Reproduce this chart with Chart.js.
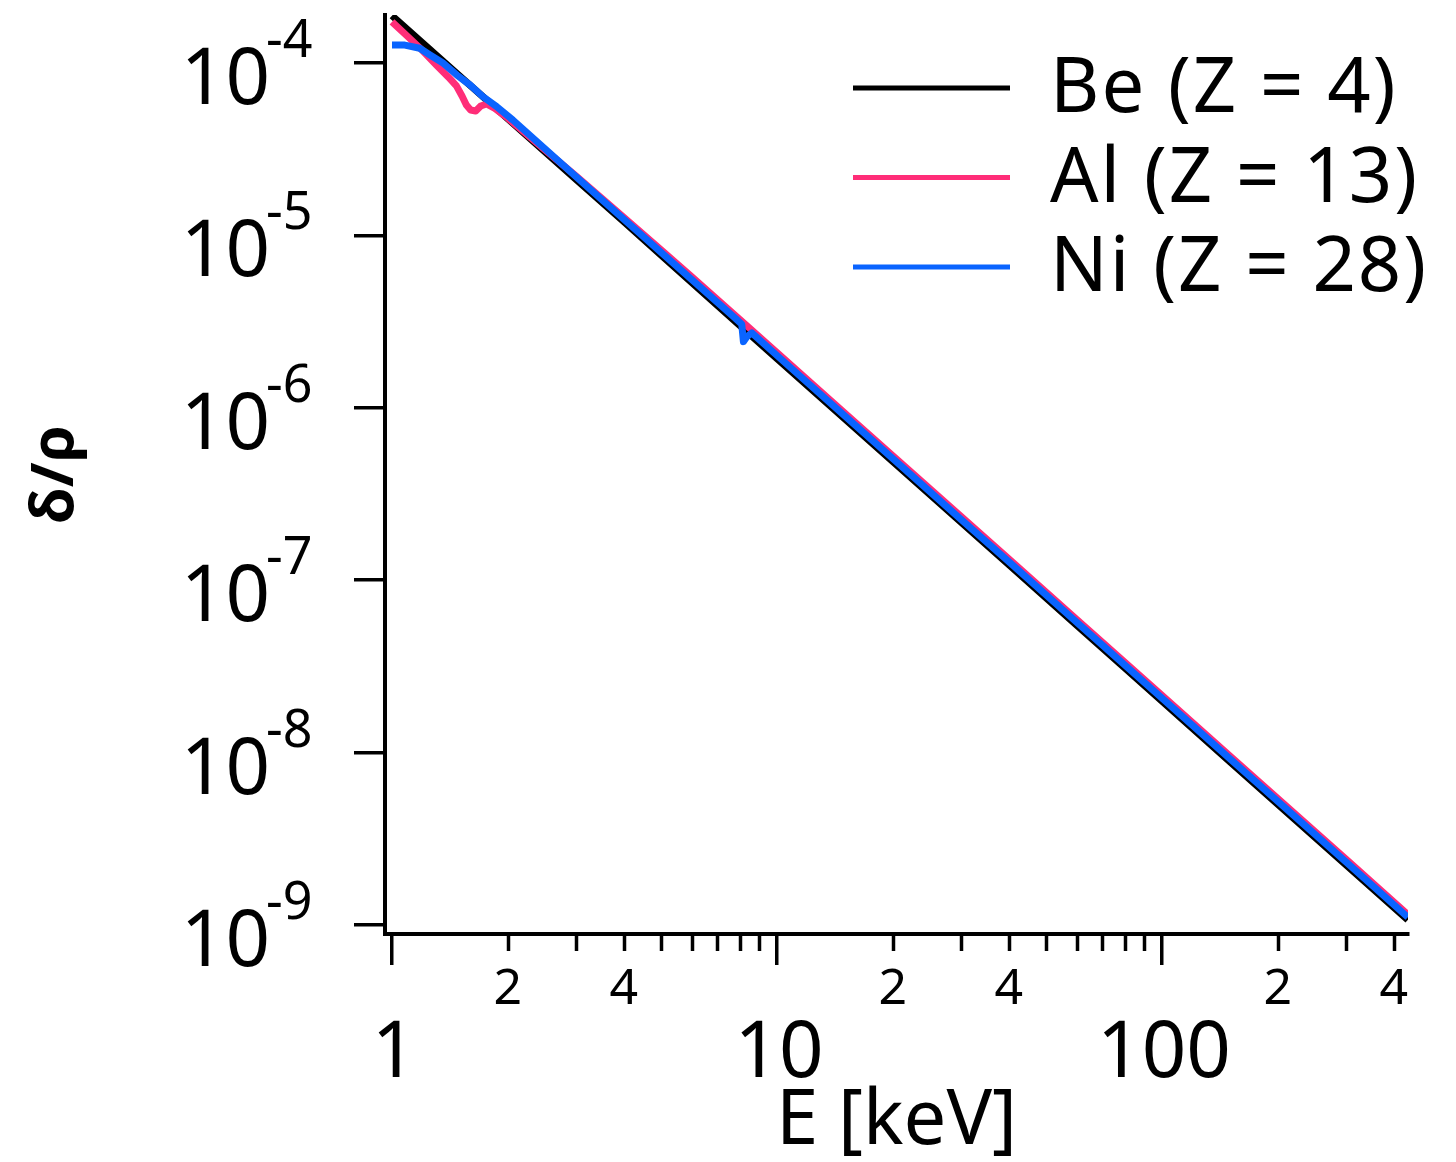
<!DOCTYPE html>
<html>
<head>
<meta charset="utf-8">
<title>δ/ρ vs E</title>
<script src="https://cdn.jsdelivr.net/npm/chart.js@4.4.1/dist/chart.umd.min.js"></script>
<style>
  html, body { margin: 0; padding: 0; background: #fff; }
  #wrap { width: 1456px; height: 1162px; position: relative; }
</style>
</head>
<body>
<div id="wrap"><canvas id="deltaChart"></canvas></div>
<script>
// photon energy [keV] and delta/rho for each element
var beEnergy = [1, 1.2, 1.5, 2, 3, 4, 5, 6, 8, 10, 15, 20, 30, 40, 60, 80, 100, 150, 200, 300, 435];
var beDelta  = [1.88e-4, 1.31e-4, 8.40e-5, 4.74e-5, 2.12e-5, 1.20e-5, 7.67e-6, 5.34e-6, 3.01e-6, 1.93e-6,
                8.63e-7, 4.87e-7, 2.18e-7, 1.23e-7, 5.49e-8, 3.10e-8, 1.99e-8, 8.87e-9, 5.01e-9, 2.24e-9, 1.07e-9];

var alEnergy = [1, 1.1, 1.2, 1.3, 1.4, 1.47, 1.52, 1.56, 1.6, 1.65, 1.7, 1.76, 1.85, 2, 2.5, 3, 4, 5, 6, 8,
                10, 15, 20, 30, 40, 60, 100, 150, 200, 300, 435];
var alDelta  = [1.73e-4, 1.42e-4, 1.18e-4, 9.8e-5, 8.3e-5, 7.36e-5, 6.43e-5, 5.71e-5, 5.34e-5, 5.27e-5,
                5.63e-5, 5.78e-5, 5.45e-5, 4.78e-5, 3.12e-5, 2.22e-5, 1.27e-5, 8.25e-6, 5.76e-6, 3.26e-6,
                2.09e-6, 9.32e-7, 5.26e-7, 2.35e-7, 1.33e-7, 5.93e-8, 2.15e-8, 9.58e-9, 5.41e-9, 2.42e-9, 1.15e-9];

var niEnergy = [1, 1.08, 1.18, 1.255, 1.36, 1.473, 1.594, 1.724, 1.87, 2.06, 3, 5, 7.8, 8.1, 8.18, 8.35, 8.6,
                10, 15, 20, 30, 40, 60, 100, 150, 200, 300, 435];
var niDelta  = [1.27e-4, 1.27e-4, 1.217e-4, 1.113e-4, 9.96e-5, 8.52e-5, 7.46e-5, 6.37e-5, 5.58e-5, 4.67e-5,
                2.2e-5, 7.97e-6, 3.30e-6, 3.05e-6, 2.42e-6, 2.58e-6, 2.72e-6, 2.01e-6, 8.98e-7, 5.07e-7,
                2.26e-7, 1.28e-7, 5.71e-8, 2.07e-8, 9.22e-9, 5.21e-9, 2.33e-9, 1.11e-9];

var seriesNames = ['Be (Z = 4)', 'Al (Z = 13)', 'Ni (Z = 28)'];
var seriesColors = ['#000000', '#ff2d78', '#0a64ff'];

var yTicks = [1e-9, 1e-8, 1e-7, 1e-6, 1e-5, 1e-4];
var xMajorTicks = [1, 10, 100];
var xMinorTicks = [2, 3, 4, 5, 6, 7, 8, 9, 20, 30, 40, 50, 60, 70, 80, 90, 200, 300, 400];
var xMinorLabels = [2, 4, 20, 40, 200, 400];

var FONT = '"Noto Sans", "Open Sans", sans-serif';

function pairs(xs, ys) {
    return xs.map(function (x, i) { return { x: x, y: ys[i] }; });
}

// tick labels with superscript exponents, minor x ticks and the in-plot legend
var decorations = {
    id: 'decorations',
    afterDraw: function (chart) {
        var ctx = chart.ctx;
        var area = chart.chartArea;
        var xs = chart.scales.x;
        var ys = chart.scales.y;
        ctx.save();
        ctx.fillStyle = '#000';
        ctx.strokeStyle = '#000';

        // y labels: 10^n
        yTicks.forEach(function (v) {
            var py = ys.getPixelForValue(v);
            var exp = Math.round(Math.log10(v));
            ctx.font = '78px ' + FONT;
            ctx.textAlign = 'right';
            ctx.textBaseline = 'alphabetic';
            ctx.fillText('10', area.left - 115, py + 41);
            ctx.font = '52px ' + FONT;
            ctx.textAlign = 'left';
            ctx.fillText(String(exp), area.left - 119, py - 6);
        });

        // minor x ticks
        ctx.lineWidth = 3.5;
        xMinorTicks.forEach(function (v) {
            var px = Math.round(xs.getPixelForValue(v)) + 0.5;
            ctx.beginPath();
            ctx.moveTo(px, area.bottom);
            ctx.lineTo(px, area.bottom + 17);
            ctx.stroke();
        });

        // x labels
        ctx.textAlign = 'center';
        ctx.textBaseline = 'alphabetic';
        ctx.font = '50px ' + FONT;
        xMinorLabels.forEach(function (v) {
            var label = String(v).charAt(0);
            ctx.fillText(label, xs.getPixelForValue(v), area.bottom + 70);
        });
        ctx.font = '78px ' + FONT;
        xMajorTicks.forEach(function (v) {
            ctx.fillText(String(v), xs.getPixelForValue(v) + 2, area.bottom + 143);
        });

        // legend
        var lx = area.right - 555;
        ctx.font = '76px ' + FONT;
        ctx.textAlign = 'left';
        try { ctx.letterSpacing = '2px'; } catch (e) {}
        chart.data.datasets.forEach(function (ds, i) {
            var ly = area.top + 73 + i * 89.5;
            ctx.strokeStyle = ds.borderColor;
            ctx.lineWidth = 5;
            ctx.beginPath();
            ctx.moveTo(lx, ly);
            ctx.lineTo(lx + 157, ly);
            ctx.stroke();
            ctx.fillStyle = '#000';
            ctx.fillText(ds.label, lx + 197, ly + 24);
        });
        ctx.restore();
    }
};

var datasets = [
    { label: seriesNames[0], data: pairs(beEnergy, beDelta), borderColor: seriesColors[0], order: 3 },
    { label: seriesNames[1], data: pairs(alEnergy, alDelta), borderColor: seriesColors[1], order: 2 },
    { label: seriesNames[2], data: pairs(niEnergy, niDelta), borderColor: seriesColors[2], order: 1 }
];
datasets.forEach(function (d) {
    d.borderWidth = 7;
    d.pointRadius = 0;
    d.fill = false;
    d.tension = 0;
    d.borderJoinStyle = 'round';
});

var chart = new Chart(document.getElementById('deltaChart'), {
    type: 'line',
    data: { datasets: datasets },
    plugins: [decorations],
    options: {
        responsive: true,
        maintainAspectRatio: false,
        animation: false,
        layout: { padding: { top: 15, right: 48, left: 0, bottom: 0 } },
        plugins: {
            legend: { display: false },
            tooltip: { enabled: false }
        },
        scales: {
            x: {
                type: 'logarithmic',
                position: 'bottom',
                min: 0.959,
                max: 435.5,
                afterFit: function (s) { s.height = 228; },
                afterBuildTicks: function (s) {
                    s.ticks = xMajorTicks.map(function (v) { return { value: v }; });
                },
                ticks: { display: false },
                grid: {
                    drawOnChartArea: false, drawTicks: true, tickLength: 31,
                    lineWidth: 3.5, tickWidth: 3.5, color: '#000', tickColor: '#000'
                },
                border: { display: true, color: '#000', width: 4 },
                title: {
                    display: true, text: 'E [keV]', color: '#000',
                    font: { family: FONT, size: 76, lineHeight: 1 },
                    padding: { top: 0, bottom: 2 }
                }
            },
            y: {
                type: 'logarithmic',
                position: 'left',
                min: 8.867e-10,
                max: 1.898e-4,
                afterFit: function (s) { s.width = 385; },
                afterBuildTicks: function (s) {
                    s.ticks = yTicks.map(function (v) { return { value: v }; });
                },
                ticks: { display: false },
                grid: {
                    drawOnChartArea: false, drawTicks: true, tickLength: 31,
                    lineWidth: 3.5, tickWidth: 3.5, color: '#000', tickColor: '#000'
                },
                border: { display: true, color: '#000', width: 4 },
                title: {
                    display: true, text: 'δ/ρ', color: '#000',
                    font: { family: FONT, size: 60, weight: 'bold', lineHeight: 1 },
                    padding: { top: 26, bottom: 0 }
                }
            }
        }
    }
});
</script>
</body>
</html>
